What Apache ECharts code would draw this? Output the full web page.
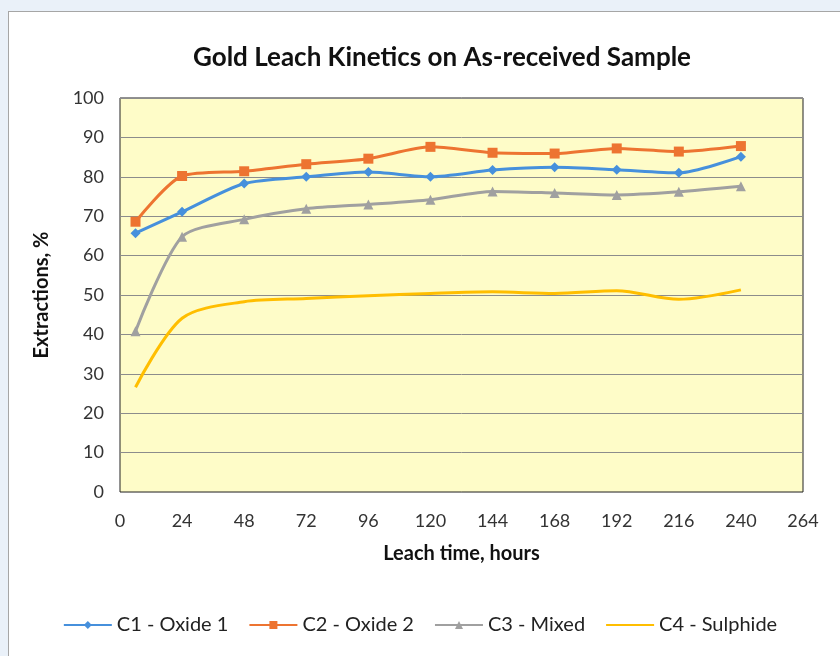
<!DOCTYPE html>
<html>
<head>
<meta charset="utf-8">
<script src="https://cdn.jsdelivr.net/npm/echarts@6/dist/echarts.min.js"></script>
<style>
html,body{margin:0;padding:0;width:840px;height:656px;overflow:hidden;background:#eaf1f9;}
#frame{position:absolute;left:8px;top:11px;width:860px;height:700px;background:#fff;border:1px solid #a6a6a6;}
#chart{position:absolute;left:0;top:0;width:840px;height:656px;}
</style>
</head>
<body>
<div id="frame"></div>
<div id="chart"></div>
<script>
const hours = [6, 24, 48, 72, 96, 120, 144, 168, 192, 216, 240];
const c1Oxide1 = [65.7, 71.1, 78.3, 80.0, 81.2, 80.0, 81.7, 82.4, 81.8, 81.0, 85.1];
const c2Oxide2 = [68.6, 80.2, 81.4, 83.2, 84.6, 87.6, 86.1, 85.9, 87.2, 86.4, 87.8];
const c3Mixed = [40.8, 64.8, 69.2, 71.9, 73.0, 74.2, 76.3, 75.9, 75.4, 76.2, 77.6];
const c4Sulphide = [26.6, 44.1, 48.3, 49.1, 49.8, 50.4, 50.8, 50.4, 51.1, 48.9, 51.3];
const seriesNames = ['C1 - Oxide 1', 'C2 - Oxide 2', 'C3 - Mixed', 'C4 - Sulphide'];
const xTicks = [0, 24, 48, 72, 96, 120, 144, 168, 192, 216, 240, 264];
const yTicks = [0, 10, 20, 30, 40, 50, 60, 70, 80, 90, 100];

const font = 'Lato, "Open Sans", sans-serif';
const pair = arr => hours.map((h, i) => [h, arr[i]]);

const chart = echarts.init(document.getElementById('chart'), null, {renderer: 'canvas'});
chart.setOption({
  backgroundColor: 'transparent',
  animation: false,
  title: {
    text: 'Gold Leach Kinetics on As-received Sample',
    left: 437, top: 40, textAlign: 'center',
    textStyle: {fontFamily: font, fontSize: 26, fontWeight: 'bold', color: '#111'}
  },
  legend: {
    bottom: 16, left: 'center',
    itemWidth: 48, itemHeight: 10, itemGap: 20,
    textStyle: {fontFamily: font, fontSize: 20, color: '#222'},
    data: [
      {name: seriesNames[0]},
      {name: seriesNames[1]},
      {name: seriesNames[2]},
      {name: seriesNames[3], itemStyle: {opacity: 0}}
    ]
  },
  grid: {
    left: 120, top: 98, width: 683, height: 394,
    show: true, backgroundColor: '#fefcc8', borderColor: '#222', borderWidth: 1
  },
  xAxis: {
    type: 'value', min: xTicks[0], max: xTicks[xTicks.length - 1], interval: 24,
    name: 'Leach time, hours', nameLocation: 'middle', nameGap: 52,
    nameTextStyle: {fontFamily: font, fontSize: 20, fontWeight: 'bold', color: '#111'},
    axisLine: {show: false}, axisTick: {show: false}, splitLine: {show: false},
    axisLabel: {fontFamily: font, fontSize: 18, color: '#333', margin: 20}
  },
  yAxis: {
    type: 'value', min: yTicks[0], max: yTicks[yTicks.length - 1], interval: 10,
    name: 'Extractions, %', nameLocation: 'middle', nameGap: 68,
    nameTextStyle: {fontFamily: font, fontSize: 20, fontWeight: 'bold', color: '#111'},
    axisLine: {show: false}, axisTick: {show: false},
    splitLine: {lineStyle: {color: '#8c8c8c', width: 1}},
    axisLabel: {fontFamily: font, fontSize: 18, color: '#333', margin: 16}
  },
  series: [
    {name: seriesNames[0], type: 'line', data: pair(c1Oxide1), smooth: 0.25,
     symbol: 'diamond', symbolSize: 10,
     lineStyle: {color: '#4690dc', width: 3}, itemStyle: {color: '#4690dc'}},
    {name: seriesNames[1], type: 'line', data: pair(c2Oxide2), smooth: 0.25,
     symbol: 'rect', symbolSize: 10,
     lineStyle: {color: '#ed7431', width: 3}, itemStyle: {color: '#ed7431'}},
    {name: seriesNames[2], type: 'line', data: pair(c3Mixed), smooth: 0.25,
     symbol: 'triangle', symbolSize: 10,
     lineStyle: {color: '#a0a0a0', width: 3}, itemStyle: {color: '#a0a0a0'}},
    {name: seriesNames[3], type: 'line', data: pair(c4Sulphide), smooth: 0.3,
     symbol: 'none',
     lineStyle: {color: '#ffbe00', width: 3}, itemStyle: {color: '#ffbe00'}}
  ]
});
</script>
</body>
</html>
